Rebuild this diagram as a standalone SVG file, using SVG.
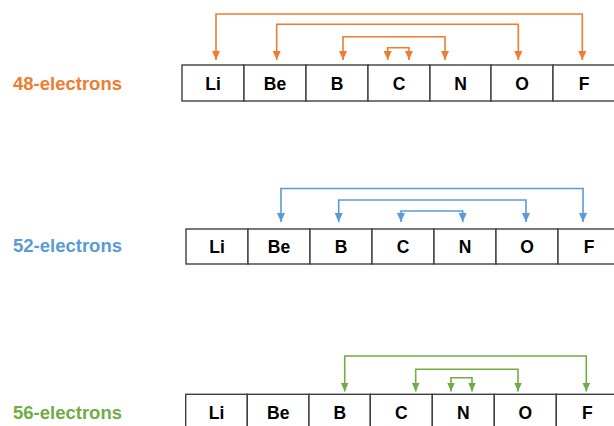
<svg xmlns="http://www.w3.org/2000/svg" width="614" height="426" viewBox="0 0 614 426">
  <style>
    .cell { fill: #ffffff; stroke: #3f3f3f; stroke-width: 1.4; }
    .sym { font-family: "Liberation Sans", Arial, sans-serif; font-weight: bold; font-size: 17.5px; fill: #000000; text-anchor: middle; }
    .title { font-family: "Liberation Sans", Arial, sans-serif; font-weight: bold; font-size: 18px; }
    .link { fill: none; stroke-width: 1.6; }
    .orange { stroke: #ED7D31; }
    .blue { stroke: #5B9BD5; }
    .green { stroke: #70AD47; }
  </style>
  <defs>
    <marker id="headOrange" markerUnits="userSpaceOnUse" markerWidth="9" markerHeight="8" refX="9" refY="4" orient="auto-start-reverse">
      <path d="M0,0 L9,4 L0,8 z" fill="#ED7D31"/>
    </marker>
    <marker id="headBlue" markerUnits="userSpaceOnUse" markerWidth="9" markerHeight="8" refX="9" refY="4" orient="auto-start-reverse">
      <path d="M0,0 L9,4 L0,8 z" fill="#5B9BD5"/>
    </marker>
    <marker id="headGreen" markerUnits="userSpaceOnUse" markerWidth="9" markerHeight="8" refX="9" refY="4" orient="auto-start-reverse">
      <path d="M0,0 L9,4 L0,8 z" fill="#70AD47"/>
    </marker>
  </defs>
  <rect width="614" height="426" fill="#ffffff"/>

  <!-- Row 1: 48 electrons -->
  <g id="row48">
    <text class="title" x="13" y="90" fill="#ED7D31" textLength="109" lengthAdjust="spacingAndGlyphs">48-electrons</text>
    <g id="r1-Li"><rect class="cell" x="182" y="65" width="62" height="36"/><text class="sym" x="213" y="90">Li</text></g>
    <g id="r1-Be"><rect class="cell" x="244" y="65" width="62" height="36"/><text class="sym" x="275" y="90">Be</text></g>
    <g id="r1-B"><rect class="cell" x="306" y="65" width="62" height="36"/><text class="sym" x="337" y="90">B</text></g>
    <g id="r1-C"><rect class="cell" x="368" y="65" width="62" height="36"/><text class="sym" x="399" y="90">C</text></g>
    <g id="r1-N"><rect class="cell" x="430" y="65" width="61" height="36"/><text class="sym" x="460.5" y="90">N</text></g>
    <g id="r1-O"><rect class="cell" x="491" y="65" width="62" height="36"/><text class="sym" x="522" y="90">O</text></g>
    <g id="r1-F"><rect class="cell" x="553" y="65" width="64" height="36"/><text class="sym" x="584" y="90">F</text></g>
  </g>

  <!-- Row 2: 52 electrons -->
  <g id="row52">
    <text class="title" x="13" y="252" fill="#5B9BD5" textLength="109" lengthAdjust="spacingAndGlyphs">52-electrons</text>
    <g id="r2-Li"><rect class="cell" x="186" y="229" width="62" height="35"/><text class="sym" x="217" y="253">Li</text></g>
    <g id="r2-Be"><rect class="cell" x="248" y="229" width="62" height="35"/><text class="sym" x="279" y="253">Be</text></g>
    <g id="r2-B"><rect class="cell" x="310" y="229" width="62" height="35"/><text class="sym" x="341" y="253">B</text></g>
    <g id="r2-C"><rect class="cell" x="372" y="229" width="62" height="35"/><text class="sym" x="403" y="253">C</text></g>
    <g id="r2-N"><rect class="cell" x="434" y="229" width="62" height="35"/><text class="sym" x="465" y="253">N</text></g>
    <g id="r2-O"><rect class="cell" x="496" y="229" width="62" height="35"/><text class="sym" x="527" y="253">O</text></g>
    <g id="r2-F"><rect class="cell" x="558" y="229" width="64" height="35"/><text class="sym" x="589" y="253">F</text></g>
  </g>

  <!-- Row 3: 56 electrons -->
  <g id="row56">
    <text class="title" x="13" y="419" fill="#70AD47" textLength="109" lengthAdjust="spacingAndGlyphs">56-electrons</text>
    <g id="r3-Li"><rect class="cell" x="185.7" y="394.3" width="61.6" height="40"/><text class="sym" x="216.5" y="419">Li</text></g>
    <g id="r3-Be"><rect class="cell" x="247.3" y="394.3" width="61.7" height="40"/><text class="sym" x="278.2" y="419">Be</text></g>
    <g id="r3-B"><rect class="cell" x="309" y="394.3" width="61.3" height="40"/><text class="sym" x="339.7" y="419">B</text></g>
    <g id="r3-C"><rect class="cell" x="370.3" y="394.3" width="62" height="40"/><text class="sym" x="401.3" y="419">C</text></g>
    <g id="r3-N"><rect class="cell" x="432.3" y="394.3" width="62" height="40"/><text class="sym" x="463.3" y="419">N</text></g>
    <g id="r3-O"><rect class="cell" x="494.3" y="394.3" width="62" height="40"/><text class="sym" x="525.3" y="419">O</text></g>
    <g id="r3-F"><rect class="cell" x="556.3" y="394.3" width="64" height="40"/><text class="sym" x="587.3" y="419">F</text></g>
  </g>

  <!-- Bracket connectors, arrowheads at both ends -->
  <g id="connectors">
    <path class="link orange" marker-start="url(#headOrange)" marker-end="url(#headOrange)" d="M216,60 V14 H582.3 V60"/>
    <path class="link orange" marker-start="url(#headOrange)" marker-end="url(#headOrange)" d="M276.7,60 V24.3 H518.3 V60"/>
    <path class="link orange" marker-start="url(#headOrange)" marker-end="url(#headOrange)" d="M343,60 V36.7 H445 V60"/>
    <path class="link orange" marker-start="url(#headOrange)" marker-end="url(#headOrange)" d="M387.7,60 V47.7 H409 V60"/>

    <path class="link blue" marker-start="url(#headBlue)" marker-end="url(#headBlue)" d="M281,222 V188.5 H583 V222"/>
    <path class="link blue" marker-start="url(#headBlue)" marker-end="url(#headBlue)" d="M338.7,222 V200 H526 V222"/>
    <path class="link blue" marker-start="url(#headBlue)" marker-end="url(#headBlue)" d="M401,222 V211 H462.7 V222"/>

    <path class="link green" marker-start="url(#headGreen)" marker-end="url(#headGreen)" d="M344.7,391.5 V356 H586.3 V391.5"/>
    <path class="link green" marker-start="url(#headGreen)" marker-end="url(#headGreen)" d="M415.7,391.5 V369.3 H518 V391.5"/>
    <path class="link green" marker-start="url(#headGreen)" marker-end="url(#headGreen)" d="M451,391.5 V377.7 H472 V391.5"/>
  </g>
</svg>
